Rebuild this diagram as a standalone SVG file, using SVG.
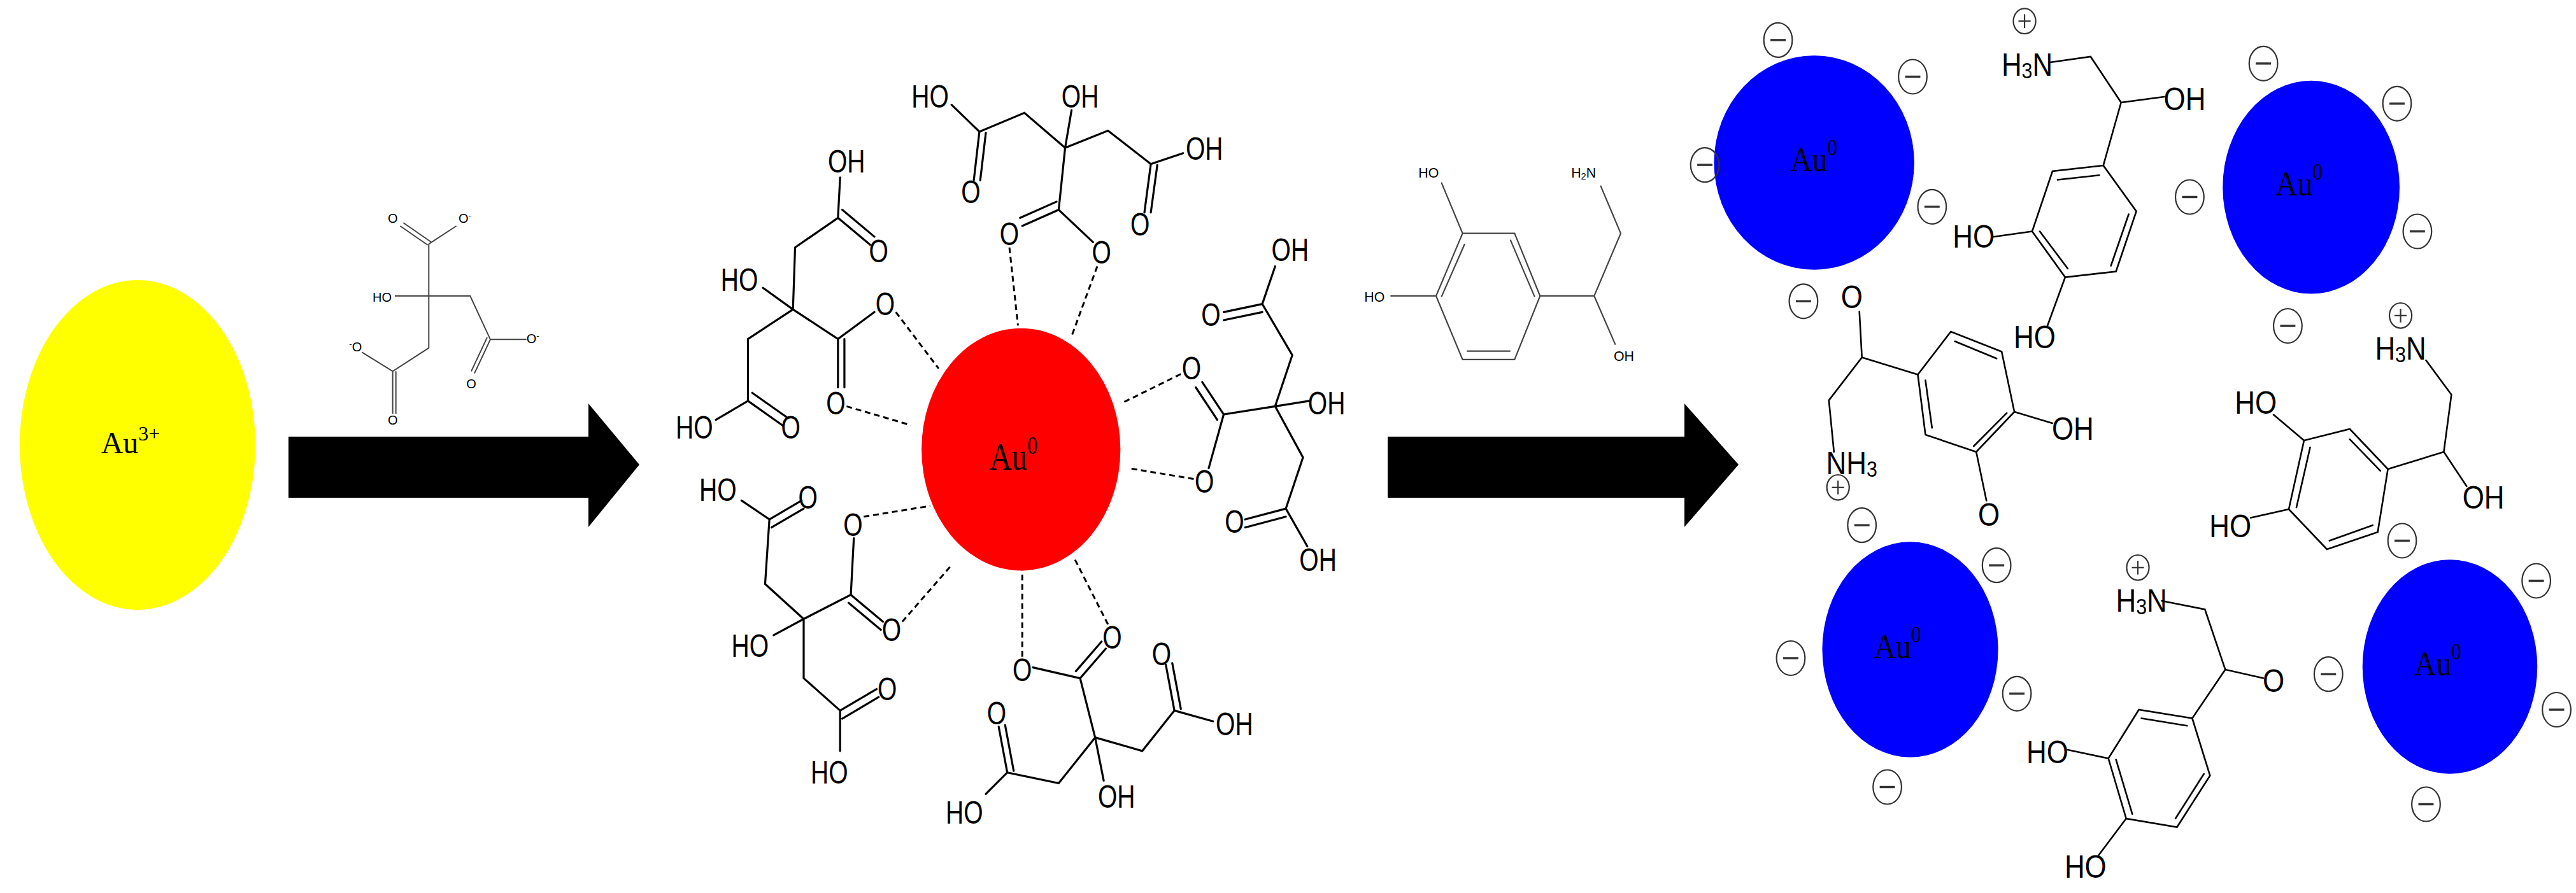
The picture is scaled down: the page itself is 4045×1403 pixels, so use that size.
<svg xmlns="http://www.w3.org/2000/svg" width="4045" height="1403" viewBox="0 0 4045 1403">
<style>
.b{stroke:#000;stroke-width:3.2;fill:none;stroke-linecap:round;vector-effect:non-scaling-stroke}
.g{stroke:#444;stroke-width:2;fill:none;vector-effect:non-scaling-stroke}
.d{stroke:#000;stroke-width:3;fill:none;stroke-dasharray:9 6;vector-effect:non-scaling-stroke}
.t{font-family:"Liberation Sans",Arial,sans-serif;fill:#000;text-anchor:middle;dominant-baseline:central}
.au{font-family:"Liberation Serif","Times New Roman",serif;fill:#000;text-anchor:middle}
.ch{stroke:#333;stroke-width:2.2;fill:none;vector-effect:non-scaling-stroke}
</style>
<defs>
<g id="minus"><ellipse cx="0" cy="0" rx="28" ry="30" class="ch"/><line x1="-15" y1="0" x2="15" y2="0" class="ch" style="stroke-width:3.5"/></g>
<g id="plus"><circle cx="0" cy="0" r="22" class="ch"/><line x1="-12" y1="0" x2="12" y2="0" class="ch"/><line x1="0" y1="-12" x2="0" y2="12" class="ch"/></g>
</defs>
<rect width="4045" height="1403" fill="#fff"/>

<g id="au3">
<ellipse cx="216" cy="699" rx="185" ry="259" fill="#ffff00"/>
<text class="au" x="205" y="712" font-size="48">Au<tspan dy="-20" font-size="32">3+</tspan></text>
</g>

<g id="connectors">
<polygon points="453,686 924,686 924,634 1004,730 924,828 924,782 453,782" fill="#000"/>
<polygon points="2179,686 2645,686 2645,634 2730,730 2645,828 2645,782 2179,782" fill="#000"/>
</g>

<g id="citrate-small" transform="translate(480,300) scale(0.3333)">
<path class="g" d="M580,495 L580,250 M580,250 L710,165 M575,255 L445,165 M590,240 L460,150 M420,495 L775,495 L870,700 L1040,700 M870,700 L795,860 M855,690 L780,850 M580,495 L580,740 L410,850 L265,760 M410,850 L410,1050 M425,850 L425,1050"/>
<g class="t" font-size="60" fill="#444">
<text x="410" y="130">O</text><text x="750" y="130">O<tspan dy="-15" font-size="40">-</tspan></text>
<text x="360" y="500">HO</text><text x="1070" y="695">O<tspan dy="-15" font-size="40">-</tspan></text>
<text x="780" y="910">O</text><text x="235" y="735"><tspan dy="-15" font-size="40">-</tspan><tspan dy="15">O</tspan></text>
<text x="410" y="1080">O</text>
</g>
</g>

<g id="cluster" transform="translate(1050,80) scale(0.673,0.846)">
<ellipse cx="822" cy="740" rx="232" ry="225" fill="#ff0000"/>
<text class="au" x="805" y="778" font-size="72">Au<tspan dy="-30" font-size="48">0</tspan></text>
<path class="b" d="M925,180 L940,110 M925,180 L830,115 L725,150 L660,100 M725,150 L712,240 M740,152 L727,240 M925,180 L1025,148 L1125,210 L1200,190 M1125,210 L1110,300 M1140,212 L1125,300 M925,180 L910,295 L825,325 M905,280 L820,310 M910,295 L990,355"/>
<path class="b" d="M290,480 L220,440 M290,480 L295,365 L395,310 L400,235 M395,310 L470,360 M405,295 L480,345 M290,480 L185,535 L185,650 L110,685 M185,650 L265,695 M195,635 L275,680 M290,480 L395,535 L480,485 M395,535 L395,625 M410,535 L410,625"/>
<path class="b" d="M1415,660 L1495,650 M1415,660 L1455,565 L1385,470 L1415,400 M1385,470 L1295,485 M1385,485 L1295,500 M1415,660 L1480,755 L1440,850 L1490,920 M1440,850 L1345,870 M1440,865 L1345,885 M1415,660 L1295,675 L1245,615 M1280,685 L1230,625 M1295,675 L1260,775"/>
<path class="b" d="M315,1055 L245,1085 M315,1055 L225,990 L235,870 L170,835 M235,870 L310,835 M240,885 L315,850 M315,1055 L315,1165 L400,1225 L400,1300 M400,1225 L485,1185 M405,1240 L490,1200 M315,1055 L425,1010 L432,905 M425,1010 L500,1060 M420,1025 L495,1075"/>
<path class="b" d="M995,1275 L1015,1355 M995,1275 L910,1360 L790,1340 L740,1380 M790,1340 L770,1255 M805,1337 L785,1252 M995,1275 L1105,1300 L1180,1225 L1270,1245 M1180,1225 L1160,1140 M1195,1222 L1175,1137 M995,1275 L960,1165 L850,1145 M960,1165 L1020,1110 M950,1152 L1010,1097"/>
<path class="d" d="M795,365 L815,510 M1000,400 L940,530 M530,485 L630,590 M415,660 L565,695 M1195,600 L1055,655 M1225,795 L1075,775 M455,865 L610,845 M545,1060 L660,955 M825,1125 L825,965 M1025,1065 L945,940"/>
<g class="t" font-size="58">
<text x="960" y="85">OH</text><text x="610" y="85">HO</text><text x="705" y="262">O</text><text x="1250" y="182">OH</text><text x="1100" y="322">O</text><text x="795" y="340">O</text><text x="1010" y="375">O</text>
<text x="165" y="425">HO</text><text x="415" y="205">OH</text><text x="490" y="372">O</text><text x="60" y="700">HO</text><text x="285" y="700">O</text><text x="505" y="470">O</text><text x="390" y="655">O</text>
<text x="1535" y="655">OH</text><text x="1450" y="370">OH</text><text x="1265" y="490">O</text><text x="1515" y="945">OH</text><text x="1320" y="875">O</text><text x="1220" y="590">O</text><text x="1250" y="800">O</text>
<text x="190" y="1105">HO</text><text x="115" y="815">HO</text><text x="325" y="830">O</text><text x="375" y="1340">HO</text><text x="510" y="1185">O</text><text x="430" y="880">O</text><text x="520" y="1075">O</text>
<text x="1045" y="1385">OH</text><text x="690" y="1415">HO</text><text x="765" y="1230">O</text><text x="1320" y="1250">OH</text><text x="1150" y="1120">O</text><text x="825" y="1150">O</text><text x="1035" y="1090">O</text>
</g>
</g>

<g id="dopamine-small" transform="translate(2050,180) scale(0.3333)">
<path class="g" style="stroke-width:2.2" d="M740,560 L985,560 L1105,855 L985,1155 L740,1155 L615,855 Z M750,610 L640,860 M965,590 L1080,860 M760,1115 L965,1115 M640,320 L740,560 M400,855 L615,855 M1105,855 L1360,855 L1485,560 L1390,335 M1360,855 L1460,1085"/>
<g class="t" font-size="64" fill="#333">
<text x="580" y="275">HO</text><text x="325" y="860">HO</text><text x="1310" y="275">H<tspan font-size="44" dy="15">2</tspan><tspan dy="-15">N</tspan></text><text x="1500" y="1140">OH</text>
</g>
</g>

<g id="right" transform="translate(2800,-10) scale(0.798,0.9)">
<ellipse cx="61" cy="295" rx="197" ry="187" fill="#0000ff"/>
<ellipse cx="1039" cy="338" rx="174" ry="186" fill="#0000ff"/>
<ellipse cx="250" cy="1145" rx="173" ry="188" fill="#0000ff"/>
<ellipse cx="1312" cy="1175" rx="172" ry="187" fill="#0000ff"/>
<g class="au" font-size="60">
<text x="60" y="310">Au<tspan dy="-28" font-size="40">0</tspan></text>
<text x="1015" y="352">Au<tspan dy="-28" font-size="40">0</tspan></text>
<text x="225" y="1160">Au<tspan dy="-28" font-size="40">0</tspan></text>
<text x="1288" y="1190">Au<tspan dy="-28" font-size="40">0</tspan></text>
</g>
<use href="#minus" x="-10" y="81"/><use href="#minus" x="-154" y="299"/><use href="#minus" x="255" y="145"/><use href="#minus" x="293" y="372"/><use href="#minus" x="40" y="537"/>
<use href="#minus" x="945" y="122"/><use href="#minus" x="1208" y="192"/><use href="#minus" x="800" y="355"/><use href="#minus" x="1248" y="415"/><use href="#minus" x="993" y="580"/>
<use href="#minus" x="155" y="928"/><use href="#minus" x="420" y="998"/><use href="#minus" x="15" y="1160"/><use href="#minus" x="460" y="1222"/><use href="#minus" x="205" y="1385"/>
<use href="#minus" x="1482" y="1025"/><use href="#minus" x="1073" y="1188"/><use href="#minus" x="1522" y="1250"/><use href="#minus" x="1265" y="1415"/><use href="#minus" x="1218" y="955"/>
<use href="#plus" x="475" y="48"/><use href="#plus" x="108" y="862"/><use href="#plus" x="1215" y="562"/><use href="#plus" x="698" y="1002"/>
<path class="b" style="stroke-width:2.6" d="M525,120 L605,110 L665,190 L750,180 M665,190 L630,300 M630,300 L530,310 L490,415 L555,495 L655,485 L695,380 Z M540,325 L622,317 M505,415 L560,480 M680,385 L645,475 M410,425 L490,415 M520,580 L555,495"/>
<path class="b" style="stroke-width:2.6" d="M150,555 L155,635 L90,710 L100,800 M155,635 L265,665 M265,665 L330,590 L430,625 L455,730 L380,800 L280,770 Z M338,607 L420,637 M293,758 L280,675 M440,732 L375,790 M455,730 L530,750 M380,800 L400,885"/>
<path class="b" style="stroke-width:2.6" d="M1265,640 L1315,700 L1300,800 L1345,860 M1300,800 L1190,830 M1190,830 L1115,760 L1025,780 L995,900 L1070,970 L1170,940 Z M1115,778 L1175,833 M1037,792 L1010,897 M1075,955 L1160,928 M965,735 L1025,780 M920,915 L995,900"/>
<path class="b" style="stroke-width:2.6" d="M745,1060 L830,1075 L870,1180 L945,1195 M870,1180 L805,1265 M805,1265 L700,1250 L640,1335 L675,1440 L775,1455 L840,1365 Z M705,1265 L795,1278 M655,1337 L687,1432 M772,1440 L828,1362 M560,1320 L640,1335 M620,1505 L675,1440"/>
<g class="t" font-size="55">
<text x="480" y="125">H<tspan font-size="38" dy="10">3</tspan><tspan dy="-10">N</tspan></text><text x="790" y="185">OH</text><text x="375" y="425">HO</text><text x="495" y="600">HO</text>
<text x="135" y="530">O</text><text x="135" y="820">NH<tspan font-size="38" dy="10">3</tspan></text><text x="570" y="760">OH</text><text x="405" y="910">O</text>
<text x="1215" y="620">H<tspan font-size="38" dy="10">3</tspan><tspan dy="-10">N</tspan></text><text x="930" y="715">HO</text><text x="880" y="930">HO</text><text x="1378" y="880">OH</text>
<text x="705" y="1060">H<tspan font-size="38" dy="10">3</tspan><tspan dy="-10">N</tspan></text><text x="965" y="1200">O</text><text x="520" y="1325">HO</text><text x="595" y="1525">HO</text>
</g>
</g>
</svg>
